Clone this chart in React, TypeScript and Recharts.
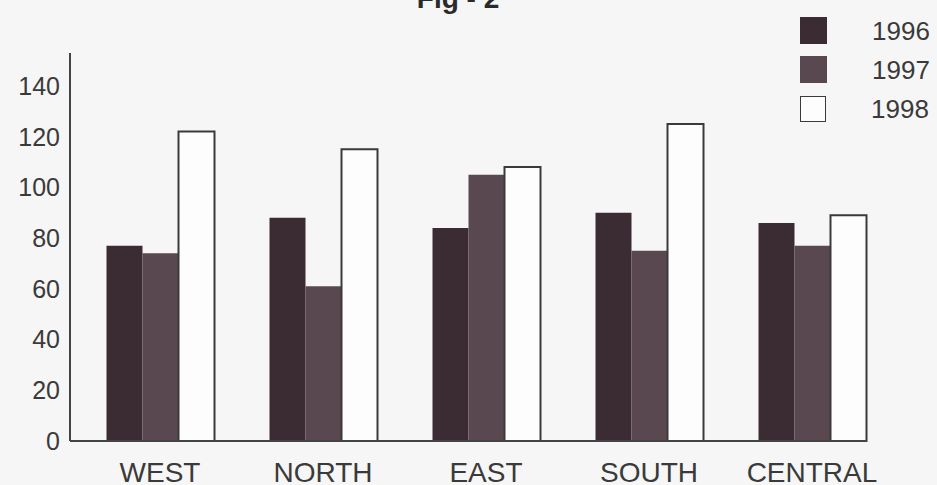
import { BarChart, Bar, XAxis, YAxis } from 'recharts'

// regional figures for three years
const regions = ['WEST', 'NORTH', 'EAST', 'SOUTH', 'CENTRAL']
const years = ['1996', '1997', '1998']
const values1996 = [77, 88, 84, 90, 86]
const values1997 = [74, 61, 105, 75, 77]
const values1998 = [122, 115, 108, 125, 89]
const yTicks = [0, 20, 40, 60, 80, 100, 120, 140]

const seriesFill = ['#3b2c34', '#5a4851', '#fdfdfd']
const ink = '#3a3a3a'
const font = '"Liberation Sans", Arial, sans-serif'

const data = regions.map((region, i) => ({
  region,
  [years[0]]: values1996[i],
  [years[1]]: values1997[i],
  [years[2]]: values1998[i],
}))

function YearLegend() {
  return (
    <div style={{ position: 'absolute', left: 800, top: 17 }}>
      {years.map((year, i) => (
        <div
          key={year}
          style={{ display: 'flex', alignItems: 'center', height: 39, marginTop: i === 0 ? 0 : 0 }}
        >
          <div
            style={{
              width: i === 2 ? 24 : 27,
              height: i === 2 ? 24 : 27,
              background: seriesFill[i],
              border: i === 2 ? `1.5px solid ${ink}` : 'none',
              marginTop: -12,
            }}
          />
          <span
            style={{
              marginLeft: 45,
              marginTop: -12,
              fontSize: 26,
              color: ink,
              fontFamily: font,
              lineHeight: '26px',
            }}
          >
            {year}
          </span>
        </div>
      ))}
    </div>
  )
}

export default function App() {
  return (
    <div
      style={{
        position: 'absolute',
        left: 0,
        top: 0,
        width: 937,
        height: 485,
        overflow: 'hidden',
        background: '#f6f6f6',
        fontFamily: font,
      }}
    >
      <div
        style={{
          position: 'absolute',
          left: 458,
          top: -17,
          transform: 'translateX(-50%)',
          fontSize: 28,
          fontWeight: 'bold',
          color: '#2a2a2a',
          whiteSpace: 'nowrap',
        }}
      >
        Fig - 2
      </div>

      <BarChart
        width={937}
        height={485}
        data={data}
        margin={{ top: 53, right: 70, bottom: 0, left: 0 }}
        barGap={0}
        barSize={36}
      >
        <XAxis
          dataKey="region"
          height={44}
          interval={0}
          tickLine={false}
          tickSize={0}
          tickMargin={21}
          padding={{ left: 8.5, right: -26.5 }}
          axisLine={{ stroke: '#444', strokeWidth: 2 }}
          tick={{ fontSize: 28, fill: ink, fontFamily: font }}
        />
        <YAxis
          width={70}
          domain={[0, 153]}
          ticks={yTicks}
          interval={0}
          tickLine={false}
          tickSize={0}
          tickMargin={10}
          axisLine={{ stroke: '#444', strokeWidth: 2 }}
          tick={{ fontSize: 25, fill: ink, fontFamily: font }}
        />
        <Bar dataKey="1996" fill={seriesFill[0]} isAnimationActive={false} />
        <Bar dataKey="1997" fill={seriesFill[1]} isAnimationActive={false} />
        <Bar
          dataKey="1998"
          fill={seriesFill[2]}
          stroke={ink}
          strokeWidth={2}
          isAnimationActive={false}
        />
      </BarChart>

      <YearLegend />
    </div>
  )
}
